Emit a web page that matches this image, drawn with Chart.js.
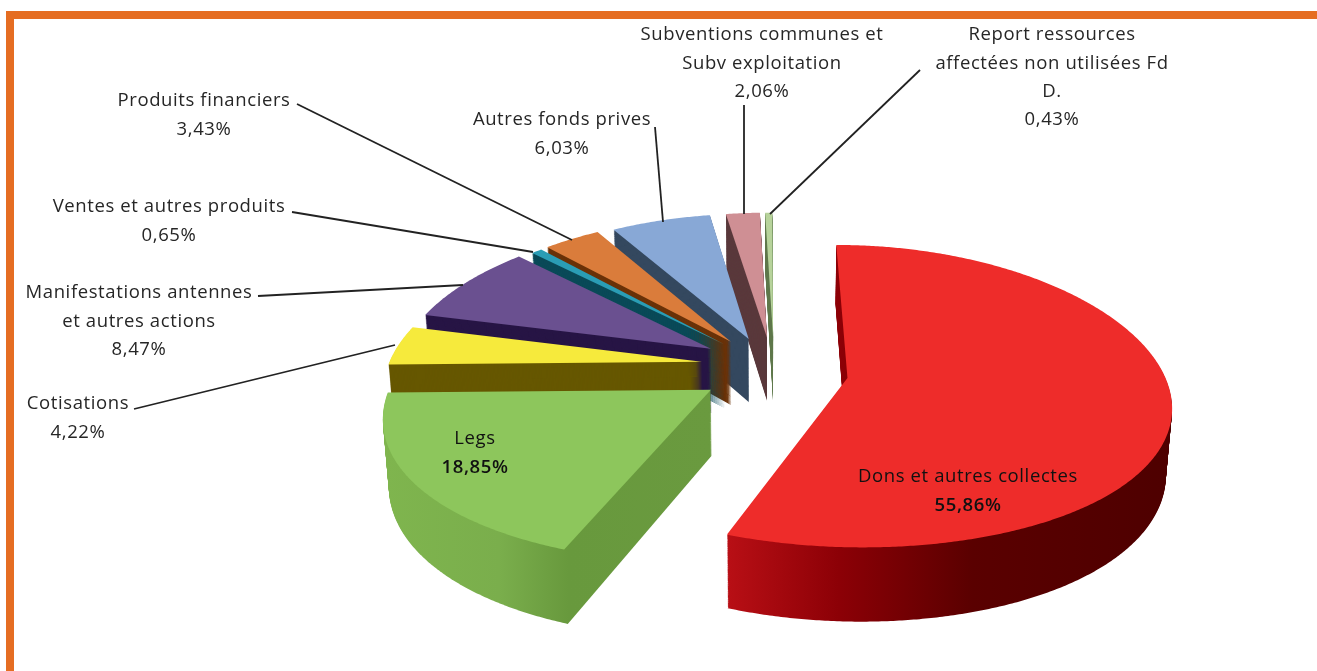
<!DOCTYPE html>
<html lang="fr">
<head>
<meta charset="utf-8">
<title>Ressources</title>
<script src="https://cdn.jsdelivr.net/npm/chart.js@4/dist/chart.umd.min.js"></script>
<style>
html,body{margin:0;padding:0;background:#fff;overflow:hidden}
#wrap{position:relative;width:1317px;height:671px;background:#fff}
#c{position:absolute;left:0;top:0}
.bar{position:absolute;background:#E56D22}
</style>
</head>
<body>
<div id="wrap">
<canvas id="c" width="1317" height="671"></canvas>
<div class="bar" style="left:6px;top:11px;width:1311px;height:8px"></div>
<div class="bar" style="left:6px;top:11px;width:8px;height:660px"></div>
</div>
<script>
// ---- data ----
const categories = ["Dons et autres collectes","Legs","Cotisations","Manifestations antennes et autres actions","Ventes et autres produits","Produits financiers","Autres fonds prives","Subventions communes et Subv exploitation","Report ressources affectées non utilisées Fd D."];
const values = [55.86,18.85,4.22,8.47,0.65,3.43,6.03,2.06,0.43];
const topColors = ["#EE2C2A","#8DC65C","#F6EA3C","#6A5090","#2A9DB5","#DA7C3B","#88A8D6","#CF8F94","#B7D39B"];
const wallColors = ["#8C0006","#6A9A3F","#665700","#271545","#0A4A58","#6A3208","#34485F","#5A393C","#5F7A50"];
// how far each slice is pulled out, in plane units (x, y)
const explodeX = [0.253,-0.174,-0.208,-0.182,-0.138,-0.118,-0.060,0.000,0.020];
const explodeY = [0.040,0.118,-0.070,-0.160,-0.190,-0.210,-0.230,-0.240,-0.240];
const labelLines = [["Dons et autres collectes"],["Legs"],["Cotisations"],["Manifestations antennes","et autres actions"],["Ventes et autres produits"],["Produits financiers"],["Autres fonds prives"],["Subventions communes et","Subv exploitation"],["Report ressources","affectées non utilisées Fd","D."]];
const labelX = [968,475,78,139,169,204,562,762,1052];
const labelY = [477,439,404,293,207,101,120,35,35];
const leaderFrom = [null,null,[134,409],[258,296],[292,212],[297,104],[655,127],[744,105],[920,70]];
const leaderTo = [null,null,[395,345],[463,285],[533,252],[572,240],[663,222],[744,214],[770,214]];

// ---- 3D projection of the pie plane ----
const XC=767, YC=372, A=316, B=147.6, H=65, EX=0.16, EY=0.12, G=0.015;
function projector(el,i,z){
  const R=el.outerRadius, dx=explodeX[i], dy=explodeY[i];
  return (x,y)=>{
    const nx=(x-el.x)/R+dx, ny=(y-el.y)/R+dy;
    return [XC+A*nx/(1-EX*ny+G*z), YC+(B*ny+H*z)/(1-EY*ny)];
  };
}
function projectedCtx(real,proj){
  return new Proxy(real,{
    get(t,k){
      if(k==='arc') return (x,y,r,a0,a1,ccw)=>{
        let a=a0,b=a1;
        if(!ccw && b<a) b+=Math.PI*2;
        if(ccw && b>a) b-=Math.PI*2;
        const n=Math.max(1,Math.ceil(Math.abs(b-a)/0.008));
        for(let s=0;s<=n;s++){
          const u=a+(b-a)*s/n, q=proj(x+r*Math.cos(u),y+r*Math.sin(u));
          t.lineTo(q[0],q[1]);
        }
      };
      if(k==='moveTo'||k==='lineTo') return (x,y)=>{const q=proj(x,y);t[k](q[0],q[1]);};
      const v=t[k];
      return typeof v==='function'?v.bind(t):v;
    },
    set(t,k,v){t[k]=v;return true;}
  });
}
function wallFill(ctx,i){
  if(i===0){
    const g=ctx.createLinearGradient(728,0,1172,0);
    g.addColorStop(0,"#B80F15");g.addColorStop(0.25,"#8C0006");g.addColorStop(0.55,"#5A0000");g.addColorStop(1,"#4E0000");
    return g;
  }
  if(i===1){
    const g=ctx.createLinearGradient(385,0,712,0);
    g.addColorStop(0,"#7FB54E");g.addColorStop(0.35,"#7AAE4C");g.addColorStop(0.56,"#68993D");g.addColorStop(1,"#6A9A3F");
    return g;
  }
  return wallColors[i];
}
function drawLayer(ctx,el,i,z,fill){
  const saved=el.options;
  el.options=Object.assign({},saved,{backgroundColor:fill,borderWidth:0,offset:0,spacing:0});
  el.draw(projectedCtx(ctx,projector(el,i,z)));
  el.options=saved;
}
const pie3d={
  id:'pie3d',
  beforeDatasetDraw(chart,args){
    const ctx=chart.ctx, arcs=chart.getDatasetMeta(args.index).data;
    for(let i=arcs.length-1;i>=0;i--){
      const fill=wallFill(ctx,i);
      for(let d=H;d>0;d-=1) drawLayer(ctx,arcs[i],i,d/H,fill);
      drawLayer(ctx,arcs[i],i,0,topColors[i]);
    }
    return false;
  },
  afterDraw(chart){
    const ctx=chart.ctx, LH=28.3;
    ctx.save();
    ctx.strokeStyle="#222";ctx.lineWidth=1.8;
    leaderFrom.forEach((p,i)=>{
      if(!p) return;
      ctx.beginPath();ctx.moveTo(p[0],p[1]);ctx.lineTo(leaderTo[i][0],leaderTo[i][1]);ctx.stroke();
    });
    ctx.textAlign="center";ctx.textBaseline="middle";
    ctx.letterSpacing="0.6px";
    values.forEach((v,i)=>{
      const lines=labelLines[i], inside=i<2;
      ctx.fillStyle=inside?"#111":"#262626";
      ctx.font='18.5px "Open Sans"';
      lines.forEach((t,n)=>ctx.fillText(t,labelX[i],labelY[i]+n*LH));
      ctx.font=(inside?'600 ':'')+'18.5px "Open Sans"';
      ctx.fillText(v.toFixed(2).replace('.',',')+'%',labelX[i],labelY[i]+lines.length*LH);
    });
    ctx.restore();
  }
};
new Chart(document.getElementById('c'),{
  type:'pie',
  data:{labels:categories,datasets:[{data:values,backgroundColor:topColors,borderWidth:0}]},
  options:{
    responsive:false,animation:false,rotation:0,radius:300,
    layout:{padding:0},
    plugins:{legend:{display:false},tooltip:{enabled:false}}
  },
  plugins:[pie3d]
});
</script>
</body>
</html>
